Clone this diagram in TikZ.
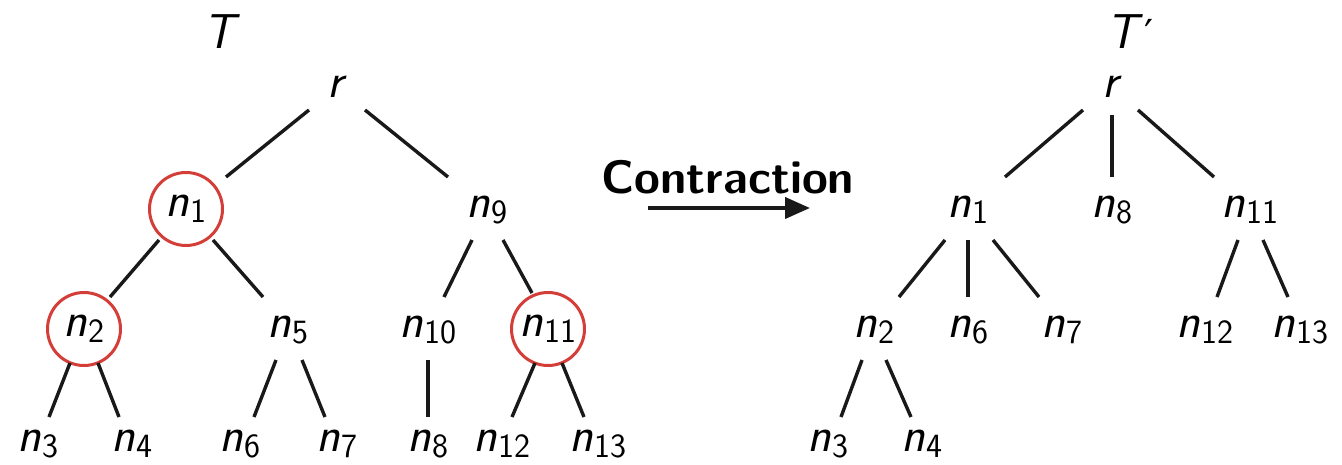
\documentclass[tikz,border=0pt]{standalone}
\usepackage{fontspec}
\newfontfamily\djv{DejaVu Sans}
\usetikzlibrary{calc,arrows.meta}
\definecolor{circred}{RGB}{212,62,56}
\newcommand{\lab}[2]{\textit{#1}\kern1pt\raisebox{-0.3ex}{\fontsize{34}{34}\selectfont #2}}
\tikzset{
  lbl/.style={inner sep=0pt, font=\fontsize{49}{58}\selectfont\sffamily},
  marked/.style={lbl, draw=circred, line width=3pt, circle, minimum size=73pt},
  edge/.style={line width=3.4pt, black!90},
  ttl/.style={lbl},
}
\begin{document}
\begin{tikzpicture}[x=1pt,y=-1pt]
\useasboundingbox (0,0) rectangle (1342,465);
% left tree
\node[ttl] (T) at (222,32) {\textit{T}};
\node[lbl] (r) at (337,87) {\textit{r}};
\node[marked] (n1) at (186,209) {\lab{n}{1}};
\node[lbl] (n9) at (487,210) {\lab{n}{9}};
\node[marked] (n2) at (84,329) {\lab{n}{2}};
\node[lbl] (n5) at (288,330) {\lab{n}{5}};
\node[lbl] (n10) at (428,330) {\lab{n}{10}};
\node[marked] (n11) at (548,329) {\lab{n}{11}};
\node[lbl] (n3) at (38,444) {\lab{n}{3}};
\node[lbl] (n4) at (132,444) {\lab{n}{4}};
\node[lbl] (n6) at (240,444) {\lab{n}{6}};
\node[lbl] (n7) at (337,444) {\lab{n}{7}};
\node[lbl] (n8) at (428,444) {\lab{n}{8}};
\node[lbl] (n12) at (502,444) {\lab{n}{12}};
\node[lbl] (n13) at (598,444) {\lab{n}{13}};
\draw[edge] ($(r)+(-28,23)$) -- ($(n1)+(40,-32)$);
\draw[edge] ($(r)+(28,23)$) -- ($(n9)+(-39,-33)$);
\draw[edge] ($(n1)+(-27,31)$) -- ($(n2)+(26,-32)$);
\draw[edge] ($(n1)+(27,31)$) -- ($(n5)+(-25,-33)$);
\draw[edge] ($(n9)+(-15,30)$) -- ($(n10)+(16,-33)$);
\draw[edge] ($(n9)+(16,30)$) -- ($(n11)+(-16,-36)$);
\draw[edge] ($(n2)+(-14,34)$) -- ($(n3)+(11,-27)$);
\draw[edge] ($(n2)+(14,34)$) -- ($(n4)+(-13,-27)$);
\draw[edge] ($(n5)+(-12,30)$) -- ($(n6)+(14,-27)$);
\draw[edge] ($(n5)+(14,30)$) -- ($(n7)+(-12,-27)$);
\draw[edge] ($(n10)+(0,30)$) -- ($(n8)+(0,-27)$);
\draw[edge] ($(n11)+(-13,34)$) -- ($(n12)+(10,-27)$);
\draw[edge] ($(n11)+(14,34)$) -- ($(n13)+(-14,-27)$);
% arrow
\node[lbl, font=\fontsize{47}{56}\selectfont\sffamily\bfseries] (ct) at (728,177) {Contraction};
\coordinate (a1) at (648,208);
\coordinate (a2) at (810,208);
\draw[line width=4pt, black!90, -{Triangle[length=25pt,width=21pt]}] (a1) -- (a2);
% right tree
\node[ttl] (Tp) at (1130,32) {\textit{T}\kern1pt{\djv\fontsize{40}{40}\selectfont ′}};
\node[lbl] (rp) at (1112,87) {\textit{r}};
\node[lbl] (m1) at (968,210) {\lab{n}{1}};
\node[lbl] (m8) at (1112,210) {\lab{n}{8}};
\node[lbl] (m11) at (1250,210) {\lab{n}{11}};
\node[lbl] (m2) at (874,330) {\lab{n}{2}};
\node[lbl] (m6) at (968,330) {\lab{n}{6}};
\node[lbl] (m7) at (1062,330) {\lab{n}{7}};
\node[lbl] (m12) at (1205,330) {\lab{n}{12}};
\node[lbl] (m13) at (1300,330) {\lab{n}{13}};
\node[lbl] (m3) at (828,444) {\lab{n}{3}};
\node[lbl] (m4) at (922,444) {\lab{n}{4}};
\draw[edge] ($(rp)+(-29,23)$) -- ($(m1)+(37,-33)$);
\draw[edge] ($(rp)+(0,28)$) -- ($(m8)+(0,-33)$);
\draw[edge] ($(rp)+(26,23)$) -- ($(m11)+(-36,-33)$);
\draw[edge] ($(m1)+(-23,30)$) -- ($(m2)+(25,-33)$);
\draw[edge] ($(m1)+(0,30)$) -- ($(m6)+(0,-33)$);
\draw[edge] ($(m1)+(25,30)$) -- ($(m7)+(-23,-33)$);
\draw[edge] ($(m11)+(-12,30)$) -- ($(m12)+(12,-33)$);
\draw[edge] ($(m11)+(13,30)$) -- ($(m13)+(-12,-33)$);
\draw[edge] ($(m2)+(-12,30)$) -- ($(m3)+(13,-27)$);
\draw[edge] ($(m2)+(12,30)$) -- ($(m4)+(-11,-27)$);
\end{tikzpicture}
\end{document}
